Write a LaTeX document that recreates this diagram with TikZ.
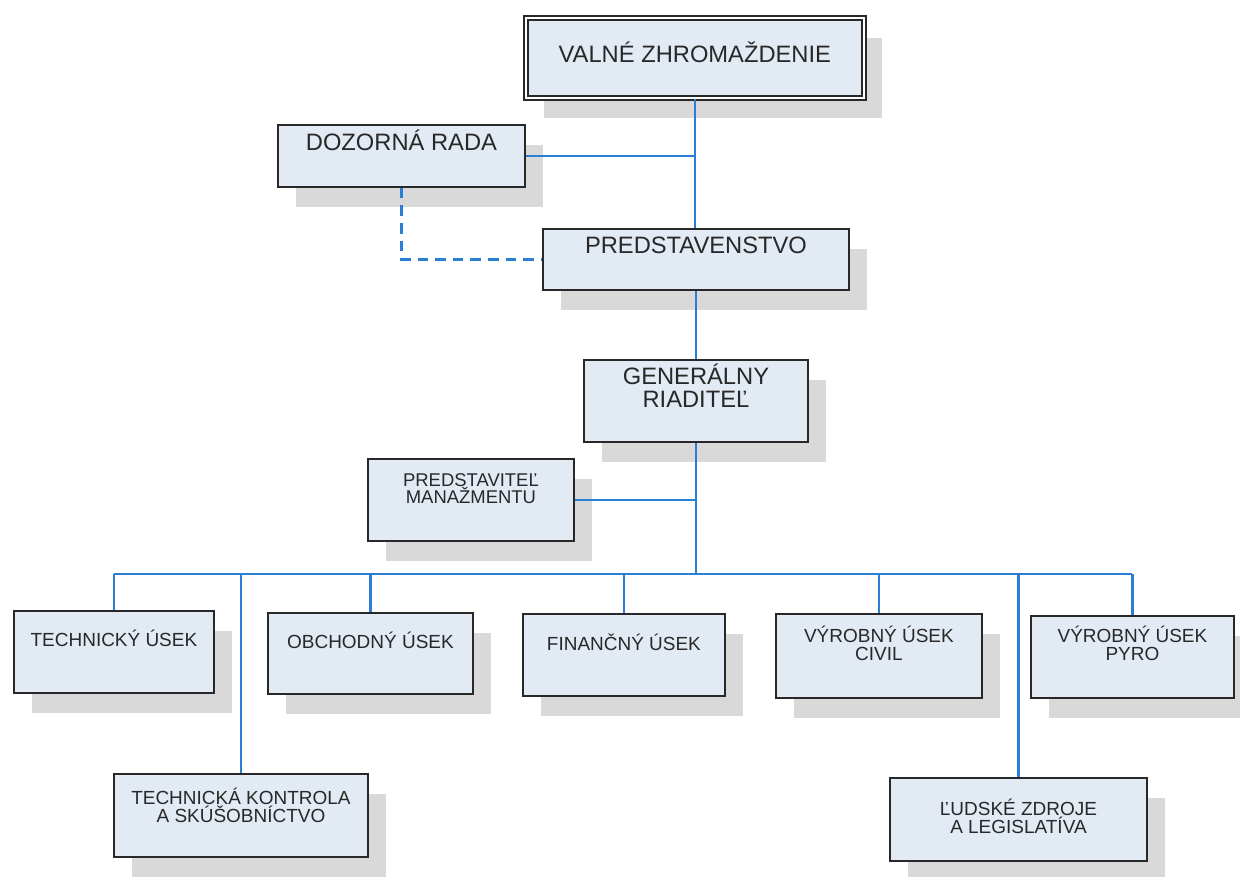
\documentclass[tikz,border=0pt]{standalone}
\usepackage{fontspec}
\setmainfont{Liberation Sans}
\usetikzlibrary{shadows}
\definecolor{boxblue}{RGB}{226,234,244}
\definecolor{lineblue}{RGB}{42,127,212}
\definecolor{inkgrey}{RGB}{40,40,40}

\begin{document}
\begin{tikzpicture}[x=0.02cm, y=-0.02cm,
    unit/.style={draw=inkgrey, line width=1.1pt, fill=boxblue, text=inkgrey, anchor=north west,
      inner ysep=0pt, align=center,
      drop shadow={shadow xshift=0.36cm, shadow yshift=-0.4cm, opacity=1, fill=black!15}},
    big/.style={font=\fontsize{13.5}{13.6}\selectfont},
    small/.style={font=\fontsize{10.8}{10.6}\selectfont},
    link/.style={draw=lineblue, line width=1.2pt}]
  \useasboundingbox (0,0) rectangle (1240,876);
  % management
  \node[unit, big, double=white, double distance=1.5pt, line width=1pt, minimum width=6.76cm, text height=0.90cm, text depth=0.70cm] (vz) at (525,17) {VALNÉ ZHROMAŽDENIE};
  \node[unit, big, minimum width=4.94cm, text height=0.52cm, text depth=0.72cm] (dr) at (277,124) {DOZORNÁ RADA};
  \node[unit, big, minimum width=6.12cm, text height=0.50cm, text depth=0.72cm] (pred) at (542,228) {PREDSTAVENSTVO};
  \node[unit, big, minimum width=4.48cm, text height=0.96cm, text depth=0.68cm] (gr) at (583,359) {GENERÁLNY\\RIADITEĽ};
  \node[unit, font=\fontsize{10.5}{10.2}\selectfont, minimum width=4.12cm, text height=0.90cm, text depth=0.74cm] (pm) at (367,458) {PREDSTAVITEĽ\\MANAŽMENTU};
  % departments
  \node[unit, small, minimum width=4.00cm, text height=0.72cm, text depth=0.92cm] (tu) at (13,610) {TECHNICKÝ ÚSEK};
  \node[unit, small, minimum width=4.10cm, text height=0.72cm, text depth=0.90cm] (ou) at (267,612) {OBCHODNÝ ÚSEK};
  \node[unit, small, minimum width=4.04cm, text height=0.74cm, text depth=0.90cm] (fu) at (522,613) {FINANČNÝ ÚSEK};
  \node[unit, small, minimum width=4.12cm, text height=0.94cm, text depth=0.74cm] (vc) at (775,613) {VÝROBNÝ ÚSEK\\CIVIL};
  \node[unit, small, minimum width=4.06cm, text height=0.90cm, text depth=0.74cm] (vp) at (1030,615) {VÝROBNÝ ÚSEK\\PYRO};
  \node[unit, small, minimum width=5.08cm, text height=0.98cm, text depth=0.68cm] (tk) at (113,773) {TECHNICKÁ KONTROLA\\A SKÚŠOBNÍCTVO};
  \node[unit, small, minimum width=5.14cm, text height=1.12cm, text depth=0.54cm] (lz) at (889,777) {ĽUDSKÉ ZDROJE\\A LEGISLATÍVA};
  % connections
  \coordinate (bus) at (694,574);
  \draw[link] (vz.south) -- (vz.south |- pred.north);
  \draw[link] (dr.east) -- (dr.east -| vz.south);
  \draw[link, dash pattern=on 6pt off 4pt] (dr.south) |- (pred.west);
  \draw[link] (pred.south) -- (pred.south |- gr.north);
  \draw[link] (gr.south) -- (gr.south |- bus);
  \draw[link] (pm.east) -- (pm.east -| gr.south);
  \draw[link] (tu.north |- bus) -- (vp.north |- bus);
  \foreach \dept in {tu, tk, ou, fu, vc, lz, vp}
    \draw[link] (\dept.north) -- (\dept.north |- bus);
\end{tikzpicture}
\end{document}
